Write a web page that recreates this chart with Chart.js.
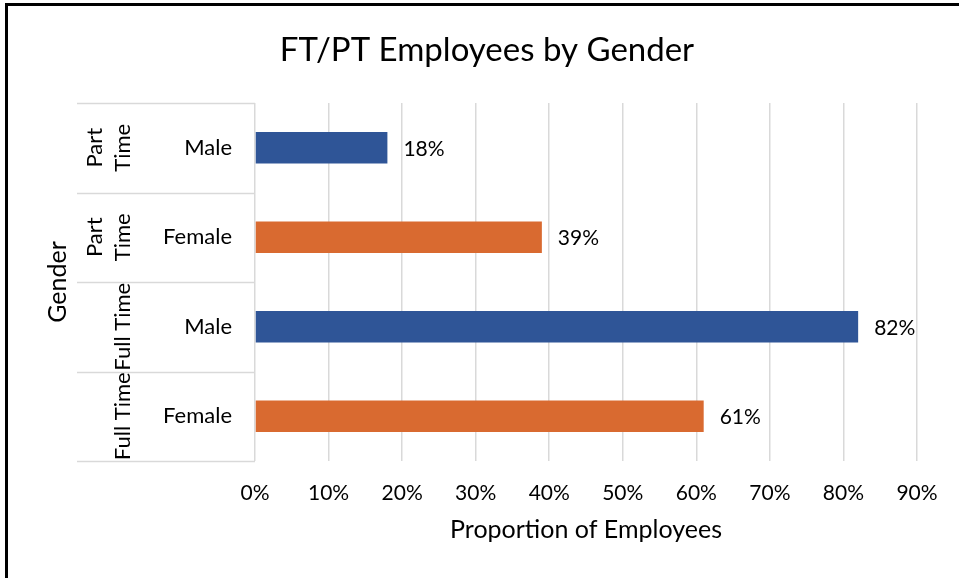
<!DOCTYPE html>
<html>
<head>
<meta charset="utf-8">
<script src="https://cdn.jsdelivr.net/npm/chart.js@4/dist/chart.umd.min.js"></script>
<style>
html, body { margin: 0; padding: 0; background: #fff; overflow: hidden; }
#frame { position: absolute; left: 5px; top: 3px; width: 1000px; height: 700px; border-left: 3px solid #000; border-top: 3px solid #000; }
#chart { position: absolute; left: 0; top: 0; }
</style>
</head>
<body>
<div id="frame"></div>
<canvas id="chart" width="959" height="578"></canvas>
<script>
// rows top to bottom
const groups = ['Part Time', 'Part Time', 'Full Time', 'Full Time'];
const genders = ['Male', 'Female', 'Male', 'Female'];
const proportions = [18, 39, 82, 61];
const xTicks = [0, 10, 20, 30, 40, 50, 60, 70, 80, 90];

const BLUE = '#2F5597';
const ORANGE = '#D96A30';
const FONT = 'Lato';

// title, multi-level category labels + data labels, drawn by hand
const labelPlugin = {
    id: 'multiLevel',
    afterDraw(chart) {
        const ctx = chart.ctx;
        const y = chart.scales.y;
        const area = chart.chartArea;
        ctx.save();

        // chart title, centred on the whole chart
        ctx.fillStyle = '#000';
        ctx.textAlign = 'center';
        ctx.textBaseline = 'middle';
        ctx.font = '33px ' + FONT;
        ctx.fillText('FT/PT Employees by Gender', 487, 50);

        // separators in the label area
        ctx.strokeStyle = '#D9D9D9';
        ctx.lineWidth = 1.5;
        for (let i = 0; i <= genders.length; i++) {
            const py = Math.round(y.getPixelForValue(i - 0.5)) + 0.5;
            ctx.beginPath();
            ctx.moveTo(77, py);
            ctx.lineTo(area.left, py);
            ctx.stroke();
        }

        ctx.font = '22px ' + FONT;

        // inner labels (gender)
        ctx.textAlign = 'right';
        for (let i = 0; i < genders.length; i++) {
            ctx.fillText(genders[i], 232, y.getPixelForValue(i));
        }

        // outer labels (group), rotated
        ctx.textAlign = 'center';
        for (let i = 0; i < groups.length; i++) {
            const py = y.getPixelForValue(i);
            ctx.save();
            ctx.translate(0, py);
            ctx.rotate(-Math.PI / 2);
            if (groups[i] == 'Part Time') {
                ctx.fillText('Part', 0, 95);
                ctx.fillText('Time', 0, 123);
            } else {
                ctx.fillText(groups[i], 0, 123);
            }
            ctx.restore();
        }

        // axis title "Gender"
        ctx.save();
        ctx.font = '25px ' + FONT;
        ctx.translate(58, (area.top + area.bottom) / 2);
        ctx.rotate(-Math.PI / 2);
        ctx.fillText('Gender', 0, 0);
        ctx.restore();

        // data labels
        ctx.textAlign = 'left';
        ctx.font = '21px ' + FONT;
        const meta = chart.getDatasetMeta(0);
        meta.data.forEach((bar, i) => {
            ctx.fillText(proportions[i] + '%', bar.x + 16, bar.y + 1);
        });

        ctx.restore();
    }
};

const config = {
    type: 'bar',
    data: {
        labels: genders,
        datasets: [
            {
                data: proportions,
                backgroundColor: genders.map(g => g == 'Male' ? BLUE : ORANGE),
                categoryPercentage: 1,
                barPercentage: 0.35,
            }
        ],
    },
    options: {
        indexAxis: 'y',
        responsive: false,
        animation: false,
        layout: { padding: { left: 255, right: 42, top: 103, bottom: 0 } },
        plugins: {
            legend: { display: false },
            tooltip: { enabled: false },
            title: { display: false },
        },
        scales: {
            y: { display: false },
            x: {
                min: 0,
                max: 90,
                afterBuildTicks: (scale) => { scale.ticks = xTicks.map(v => ({ value: v })); },
                afterFit: (scale) => { scale.height = 117; },
                border: { display: false },
                grid: { color: '#D9D9D9', lineWidth: 1.5, drawTicks: false },
                ticks: {
                    color: '#000',
                    padding: 20,
                    font: { family: FONT, size: 21 },
                    callback: v => v + '%',
                },
                title: {
                    display: true,
                    text: 'Proportion of Employees',
                    color: '#000',
                    font: { family: FONT, size: 25 },
                    padding: { top: 0, bottom: 33 },
                },
            },
        },
    },
    plugins: [labelPlugin],
};

new Chart(document.getElementById('chart'), config);
</script>
</body>
</html>
